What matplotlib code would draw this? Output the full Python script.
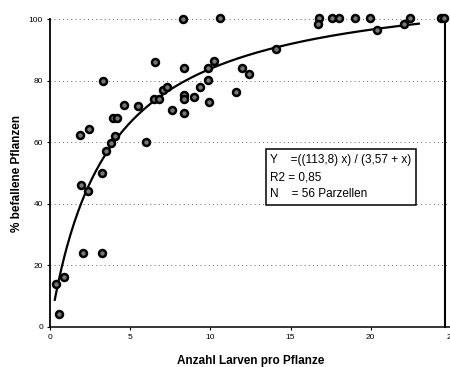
import numpy as np
import matplotlib
matplotlib.use("Agg")
from matplotlib import pyplot as plt

plt.rcParams['font.family'] = ['Liberation Sans', 'DejaVu Sans']

# larvae per plant (x) and % infested plants (y)
larven = [0.37, 0.54, 0.89, 2.04, 3.22, 1.91, 2.39, 3.24, 3.47, 3.80,
          4.05, 6.02, 1.87, 2.45, 3.32, 3.95, 4.20, 4.61, 5.52, 6.54,
          6.48, 6.81, 7.06, 7.27, 7.62, 8.33, 8.33, 8.37, 8.37, 8.97,
          9.37, 9.93, 9.86, 9.86, 10.24, 8.31, 10.59, 11.57, 12.00, 12.39,
          14.10, 16.76, 16.70, 17.60, 18.00, 19.00, 19.98, 20.40, 22.10, 22.45,
          24.40, 24.55]
befallen = [14.0, 4.2, 16.2, 24.1, 24.0, 46.0, 44.3, 50.1, 57.1, 59.6,
            62.0, 60.2, 62.3, 64.3, 80.0, 67.8, 67.8, 72.0, 71.8, 85.9,
            74.1, 73.9, 77.0, 78.1, 70.6, 69.6, 84.2, 75.3, 73.9, 74.8,
            78.1, 73.0, 80.2, 84.2, 86.4, 100.0, 100.2, 76.2, 84.1, 82.2,
            90.4, 100.3, 98.5, 100.3, 100.3, 100.3, 100.3, 96.4, 98.4, 100.3,
            100.3, 100.3]

# fitted model Y = (a x) / (b + x)
a_fit = 113.8
b_fit = 3.57
x_fit_range = (0.3, 23.0)

x_ticks = [0, 5, 10, 15, 20, 25]
y_ticks = [0, 20, 40, 60, 80, 100]

fig = plt.figure(figsize=(4.5, 3.67), dpi=100)
ax = fig.add_axes([0.111, 0.109, 0.891, 0.839])

# dotted horizontal grid
for yv in y_ticks[1:]:
    ax.axhline(yv, color='#333333', lw=0.6, linestyle=(0, (1, 4)), zorder=1)

xf = np.linspace(*x_fit_range, 300)
ax.plot(xf, a_fit * xf / (b_fit + xf), color='black', lw=1.6, zorder=2)

ax.plot(larven, befallen, linestyle='none', marker='o', ms=5.0,
        mfc='#777777', mec='black', mew=1.8, clip_on=False, zorder=3)

ax.set_xlim(0, 25)
ax.set_ylim(0, 100)
ax.set_xticks(x_ticks)
ax.set_yticks(y_ticks)
ax.tick_params(labelsize=6, length=2, width=0.8, pad=3)

ax.spines['top'].set_visible(False)
ax.spines['right'].set_position(('data', 24.65))
ax.spines['right'].set_linewidth(1.5)
ax.spines['left'].set_linewidth(1.3)
ax.spines['bottom'].set_linewidth(1.1)

ax.set_xlabel('Anzahl Larven pro Pflanze', fontsize=8.5, fontweight='bold', labelpad=10)
ax.set_ylabel('% befallene Pflanzen', fontsize=8.5, fontweight='bold', labelpad=4)

# equation box
ax.text(13.75, 48.7,
        'Y    =((113,8) x) / (3,57 + x)\nR2 = 0,85\nN    = 56 Parzellen',
        fontsize=8.5, va='center', ha='left', linespacing=1.55,
        bbox=dict(boxstyle='square,pad=0.4', fc='white', ec='black', lw=1.1),
        zorder=4)

fig.savefig('out.png', dpi=100)
